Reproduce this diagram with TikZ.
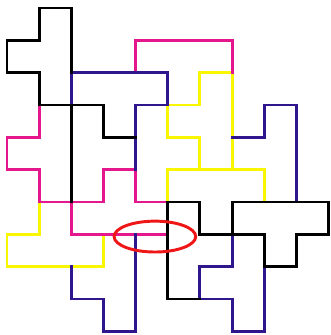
\documentclass[tikz,border=0pt]{standalone}
\usepackage{tikz}
\definecolor{tilepink}{RGB}{228,24,140}
\definecolor{tileblue}{RGB}{48,22,140}
\definecolor{tileyellow}{RGB}{250,245,0}
\definecolor{ringred}{RGB}{238,22,22}

\begin{document}
\begin{tikzpicture}[
  x=1cm, y=-1.0056cm,
  edge/.style={line width=2.6pt, line cap=rect, line join=miter},
  blackline/.style={edge, draw=black},
  pinkline/.style={edge, draw=tilepink},
  blueline/.style={edge, draw=tileblue},
  yellowline/.style={edge, draw=tileyellow},
  ring/.style={draw=ringred, line width=2.6pt}
]
\useasboundingbox (-0.218,-0.247) rectangle (10.047,10.114);

\draw[yellowline] (1,6) -- (1,7) -- (0,7) -- (0,8) -- (3,8) -- (3,7);
\draw[yellowline] (5,6) -- (5,5) -- (8,5) -- (8,6);
\draw[yellowline] (7,5) -- (7,2) -- (6,2) -- (6,3) -- (5,3) -- (5,4) -- (6,4) -- (6,5);

\draw[pinkline] (4,2) -- (4,1) -- (7,1) -- (7,2);
\draw[pinkline] (1,3) -- (1,4) -- (0,4) -- (0,5) -- (1,5) -- (1,6) -- (3,6) -- (3,5)
  -- (4,5) -- (4,6) -- (5,6);
\draw[pinkline] (2,6) -- (2,7) -- (5,7);

\draw[blueline] (2,3) -- (2,2) -- (5,2) -- (5,3) -- (4,3) -- (4,5);
\draw[blueline] (7,4) -- (8,4) -- (8,3) -- (9,3) -- (9,6);
\draw[blueline] (7,7) -- (7,8) -- (6,8) -- (6,9) -- (7,9) -- (7,10) -- (8,10) -- (8,8);
\draw[blueline] (2,8) -- (2,9) -- (3,9) -- (3,10) -- (4,10) -- (4,7);

\draw[blackline] (2,2) -- (2,0) -- (1,0) -- (1,1) -- (0,1) -- (0,2) -- (1,2) -- (1,3)
  -- (3,3) -- (3,4) -- (4,4);
\draw[blackline] (2,3) -- (2,6);
\draw[blackline] (6,9) -- (5,9) -- (5,6) -- (6,6) -- (6,7) -- (8,7) -- (8,8) -- (9,8)
  -- (9,7) -- (10,7) -- (10,6) -- (7,6) -- (7,7);

\draw[ring] (4.6,7.07) ellipse [x radius=1.27cm, y radius=0.48cm];
\end{tikzpicture}
\end{document}
